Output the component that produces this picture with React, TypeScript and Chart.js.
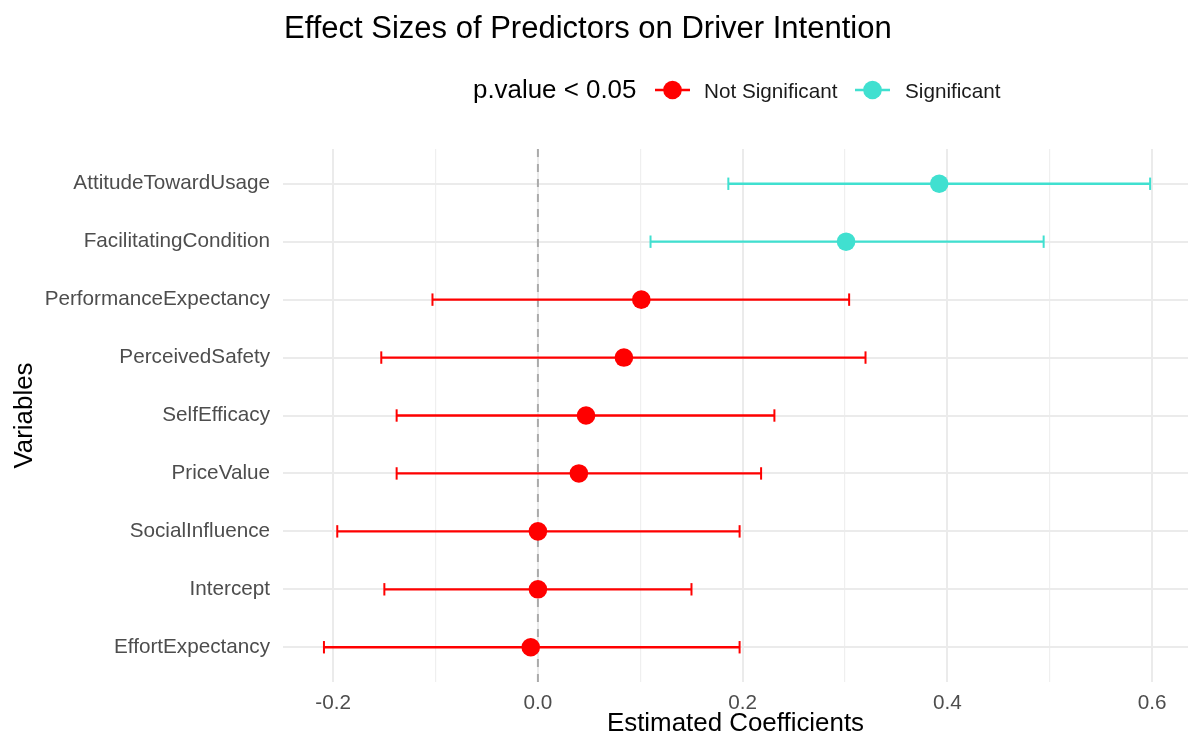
import React, { useEffect, useRef } from "react";
import { Chart, registerables } from "chart.js";

Chart.register(...registerables);

const variables = [
  "AttitudeTowardUsage",
  "FacilitatingCondition",
  "PerformanceExpectancy",
  "PerceivedSafety",
  "SelfEfficacy",
  "PriceValue",
  "SocialInfluence",
  "Intercept",
  "EffortExpectancy",
];
const estimates = [0.392, 0.301, 0.101, 0.084, 0.047, 0.04, 0.0, 0.0, -0.007];
const lowerCI = [0.186, 0.11, -0.103, -0.153, -0.138, -0.138, -0.196, -0.15, -0.209];
const upperCI = [0.598, 0.494, 0.304, 0.32, 0.231, 0.218, 0.197, 0.15, 0.197];
const significant = [true, true, false, false, false, false, false, false, false];

const titleText = "Effect Sizes of Predictors on Driver Intention";
const legendTitle = "p.value < 0.05";
const legendLabels = ["Not Significant", "Significant"];
const groupColors = ["#FF0000", "#40E0D0"];

const FONT = "'Liberation Sans', Arial, Helvetica, sans-serif";

export default function App() {
  const ref = useRef<HTMLCanvasElement | null>(null);

  useEffect(() => {
    if (!ref.current) return;

    const errorSets = variables.map((v, i) => {
      const col = significant[i] ? groupColors[1] : groupColors[0];
      return {
        type: "scatter" as const,
        label: "err-" + v,
        showLine: true,
        data: [
          { x: lowerCI[i], y: i },
          { x: upperCI[i], y: i },
        ],
        borderColor: col,
        borderWidth: 2.3,
        pointStyle: "line" as const,
        rotation: 90,
        pointRadius: 6.2,
        pointHoverRadius: 6.2,
        pointBorderWidth: 2,
        pointBorderColor: col,
        pointBackgroundColor: col,
        order: 2,
      };
    });

    const pointSets = [false, true].map((sig, g) => ({
      type: "scatter" as const,
      label: legendLabels[g],
      data: variables
        .map((v, i) => ({ x: estimates[i], y: i, s: significant[i] }))
        .filter((d) => d.s === sig)
        .map((d) => ({ x: d.x, y: d.y })),
      pointRadius: 9.3,
      pointHoverRadius: 9.3,
      pointBorderWidth: 0,
      backgroundColor: groupColors[g],
      borderColor: groupColors[g],
      order: 1,
    }));

    const decorations = {
      id: "decorations",
      beforeDatasetsDraw(chart: any) {
        const { ctx, chartArea } = chart;
        const x0 = chart.scales.x.getPixelForValue(0);
        ctx.save();
        ctx.strokeStyle = "#aaaaaa";
        ctx.lineWidth = 2;
        ctx.setLineDash([8, 7]);
        ctx.beginPath();
        ctx.moveTo(x0, chartArea.top);
        ctx.lineTo(x0, chartArea.bottom);
        ctx.stroke();
        ctx.restore();
      },
      afterDraw(chart: any) {
        const { ctx } = chart;
        ctx.save();
        ctx.textBaseline = "alphabetic";
        ctx.textAlign = "left";
        ctx.fillStyle = "#000000";
        ctx.font = `31px ${FONT}`;
        ctx.fillText(titleText, 284, 38);

        ctx.font = `25.9px ${FONT}`;
        ctx.fillText(legendTitle, 473, 98);

        const keys = [
          { x1: 655, x2: 690, tx: 704 },
          { x1: 855, x2: 890, tx: 905 },
        ];
        keys.forEach((k, g) => {
          ctx.strokeStyle = groupColors[g];
          ctx.lineWidth = 2.3;
          ctx.beginPath();
          ctx.moveTo(k.x1, 90);
          ctx.lineTo(k.x2, 90);
          ctx.stroke();
          ctx.fillStyle = groupColors[g];
          ctx.beginPath();
          ctx.arc((k.x1 + k.x2) / 2, 90, 9.3, 0, Math.PI * 2);
          ctx.fill();
          ctx.fillStyle = "#1a1a1a";
          ctx.font = `20.7px ${FONT}`;
          ctx.fillText(legendLabels[g], k.tx, 97.5);
        });
        ctx.restore();
      },
    };

    const isMajor = (v: number) => Math.round(v * 10) % 2 === 0;

    const chart = new Chart(ref.current, {
      type: "scatter",
      data: { datasets: [...errorSets, ...pointSets] as any },
      options: {
        animation: false,
        responsive: false,
        devicePixelRatio: 1,
        events: [],
        layout: { autoPadding: false, padding: { top: 149, left: 0, right: 0, bottom: 0 } },
        plugins: {
          legend: { display: false },
          title: { display: false },
          tooltip: { enabled: false },
        },
        scales: {
          x: {
            type: "linear",
            min: -0.249,
            max: 0.635,
            border: { display: false },
            grid: {
              drawTicks: false,
              color: (c: any) => (c.tick && isMajor(c.tick.value) ? "#EBEBEB" : "#EFEFEF"),
              lineWidth: (c: any) => (c.tick && isMajor(c.tick.value) ? 2 : 1.2),
            },
            ticks: {
              stepSize: 0.1,
              includeBounds: false,
              autoSkip: false,
              maxRotation: 0,
              padding: 9,
              color: "#4D4D4D",
              font: { family: FONT, size: 20.7 },
              callback: (v: any) => (isMajor(Number(v)) ? Number(v).toFixed(1) : ""),
            },
            title: {
              display: true,
              text: "Estimated Coefficients",
              color: "#000000",
              font: { family: FONT, size: 25.9, lineHeight: 0.85 },
              padding: { top: 0, bottom: 7 },
            },
            afterFit: (s: any) => {
              s.height = 60;
            },
          },
          y: {
            type: "linear",
            reverse: true,
            min: -0.6,
            max: variables.length - 1 + 0.6,
            border: { display: false },
            grid: {
              drawTicks: false,
              color: "#EBEBEB",
              lineWidth: 2,
            },
            ticks: {
              stepSize: 1,
              includeBounds: false,
              autoSkip: false,
              padding: 13,
              color: "#4D4D4D",
              font: { family: FONT, size: 20.7 },
              callback: (v: any) => variables[Math.round(Number(v))] ?? "",
            },
            title: {
              display: true,
              text: "Variables",
              color: "#000000",
              font: { family: FONT, size: 25.9, lineHeight: 0.85 },
              padding: { top: 14, bottom: 0 },
            },
            afterFit: (s: any) => {
              s.width = 283;
            },
          },
        },
      },
      plugins: [decorations],
    });

    return () => chart.destroy();
  }, []);

  return (
    <div style={{ position: "absolute", left: 0, top: 0, width: 1188, height: 742, background: "#fff" }}>
      <canvas ref={ref} width={1188} height={742} />
    </div>
  );
}
